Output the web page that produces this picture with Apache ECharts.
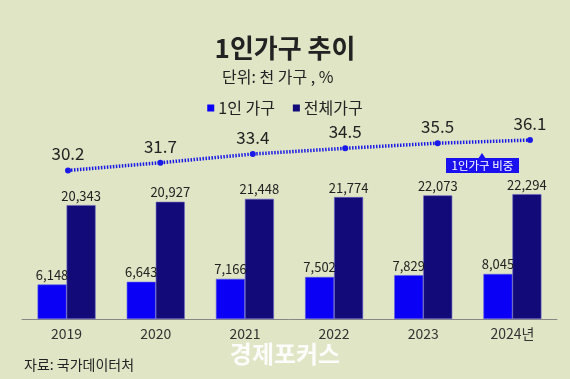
<!DOCTYPE html>
<html><head><meta charset="utf-8">
<script src="https://cdn.jsdelivr.net/npm/echarts@6/dist/echarts.min.js"></script>
<style>html,body{margin:0;padding:0;background:#dfe5c5;}#c{width:570px;height:379px;}</style>
</head><body><div id="c"></div>
<script>
const categories = ['2019','2020','2021','2022','2023','2024년'];
const singleHouseholds = [6148, 6643, 7166, 7502, 7829, 8045];
const totalHouseholds = [20343, 20927, 21448, 21774, 22073, 22294];
const singleShare = [30.2, 31.7, 33.4, 34.5, 35.5, 36.1];
const FONT = '"Noto Sans CJK KR", "Noto Sans", sans-serif';
const fmt = v => v.toLocaleString('en-US');
const chart = echarts.init(document.getElementById('c'));
chart.setOption({
  backgroundColor: '#dfe5c5',
  textStyle: {fontFamily: FONT},
  title: [
    {text: '1인가구 추이', left: 'center', top: 30, textStyle: {fontFamily: FONT, fontSize: 26, fontWeight: 'bold', color: '#222'}},
    {text: '단위: 천 가구 , %', left: 217, top: 64, textStyle: {fontFamily: FONT, fontSize: 16, fontWeight: 'normal', color: '#222'}},
    {text: '자료: 국가데이터처', left: 19, top: 353, textStyle: {fontFamily: FONT, fontSize: 14, fontWeight: 'normal', color: '#222'}}
  ],
  legend: {
    top: 95, left: 'center', itemWidth: 7, itemHeight: 7, itemGap: 18, icon: 'rect',
    data: ['1인 가구', '전체가구'],
    itemStyle: {borderWidth: 0},
    textStyle: {fontFamily: FONT, fontSize: 16, color: '#222', padding: [0,0,0,-1]}
  },
  grid: [
    {left: 22, width: 535, top: 95, height: 224},
    {left: 68, width: 462, top: 120, height: 103}
  ],
  xAxis: [
    {type: 'category', gridIndex: 0, data: categories,
     axisLine: {lineStyle: {color: '#888', width: 1}}, axisTick: {show: false},
     axisLabel: {fontFamily: FONT, fontSize: 14, color: '#333', margin: 8}},
    {type: 'category', gridIndex: 1, data: categories, boundaryGap: false, show: false}
  ],
  yAxis: [
    {type: 'value', gridIndex: 0, min: 0, max: 40000, show: false, splitLine: {show: false}},
    {type: 'value', gridIndex: 1, min: 20, max: 40, show: false, splitLine: {show: false}}
  ],
  series: [
    {name: '1인 가구', type: 'bar', xAxisIndex: 0, yAxisIndex: 0, data: singleHouseholds,
     barWidth: 29, barGap: '0%', itemStyle: {color: '#0a00f5', borderColor: '#5a5ae8', borderWidth: 0.6},
     label: {show: true, position: 'top', distance: 3, formatter: p => fmt(p.value), fontFamily: FONT, fontSize: 13, color: '#222'}},
    {name: '전체가구', type: 'bar', xAxisIndex: 0, yAxisIndex: 0, data: totalHouseholds,
     barWidth: 29, itemStyle: {color: '#110a78', borderColor: '#6a64c8', borderWidth: 0.6},
     label: {show: true, position: 'top', distance: 3, formatter: p => fmt(p.value), fontFamily: FONT, fontSize: 13, color: '#222'}},
    {name: '1인가구 비중', type: 'line', xAxisIndex: 1, yAxisIndex: 1, data: singleShare,
     symbol: 'circle', symbolSize: 6, itemStyle: {color: '#1a1ae8'},
     lineStyle: {color: '#1a1ae8', width: 3.5, type: [1.5, 1.5]},
     label: {show: true, position: 'top', distance: 5, formatter: p => p.value.toFixed(1), fontFamily: FONT, fontSize: 17, color: '#222'}}
  ],
  graphic: [
    {type: 'polygon', shape: {points: [[478,159],[486,159],[482,153]]}, style: {fill: '#1a10f0'}},
    {type: 'rect', shape: {x: 446, y: 158, width: 73, height: 15}, style: {fill: '#1a10f0'}},
    {type: 'text', x: 482.5, y: 165.5, style: {text: '1인가구 비중', fill: '#fff', font: '11.5px ' + FONT, align: 'center', verticalAlign: 'middle'}},
    {type: 'text', x: 285, y: 354, style: {text: '경제포커스', fill: 'rgba(255,255,255,0.9)', font: 'bold 24px ' + FONT, align: 'center', verticalAlign: 'middle'}}
  ]
});
</script></body></html>
